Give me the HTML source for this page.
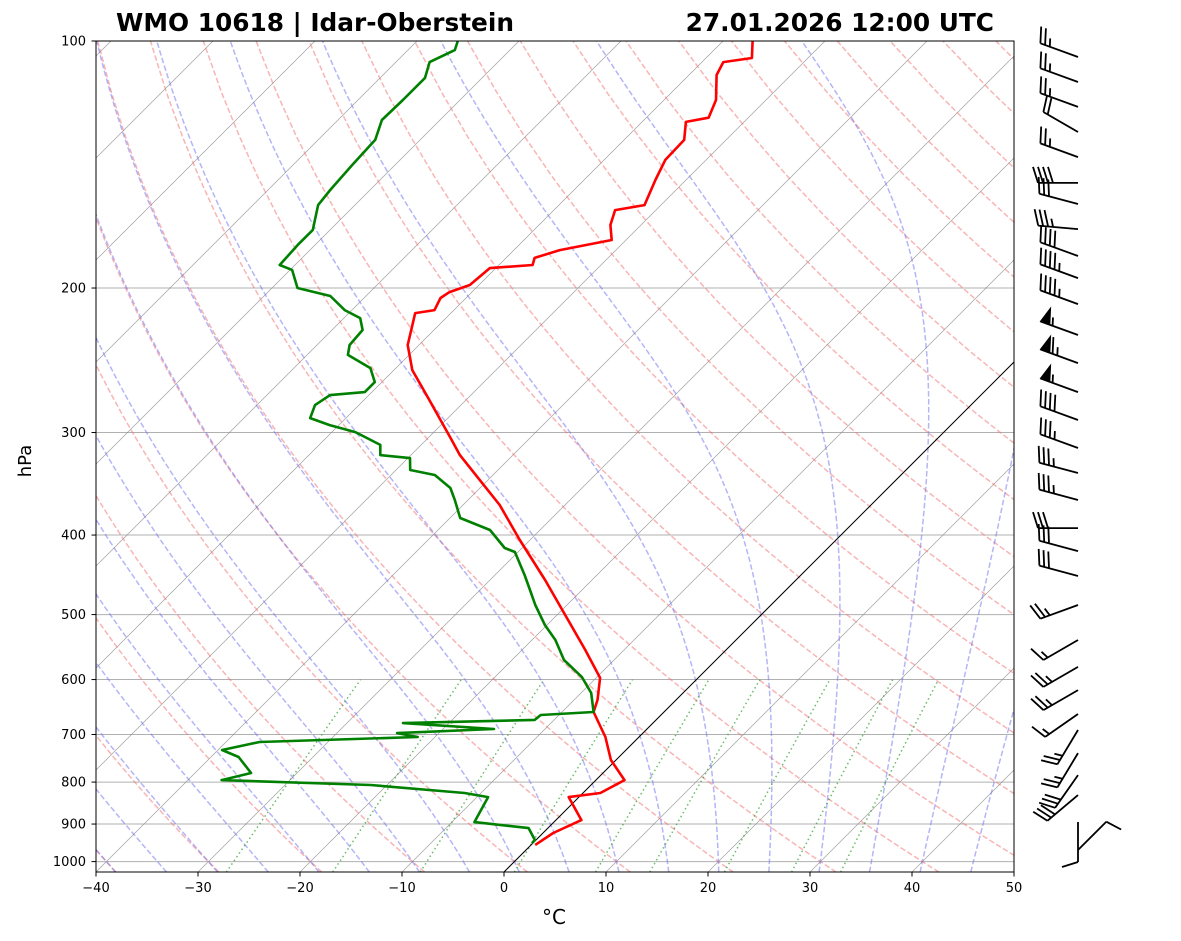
<!DOCTYPE html>
<html><head><meta charset="utf-8"><style>
html,body{margin:0;padding:0;background:#fff;}
svg{display:block;font-family:"DejaVu Sans","Liberation Sans",sans-serif;}
</style></head><body>
<svg id="chart" width="1181" height="941" viewBox="0 0 1181 941" xmlns="http://www.w3.org/2000/svg">
<defs><clipPath id="plotclip"><rect x="96" y="41" width="918" height="831"/></clipPath></defs>
<rect x="0" y="0" width="1181" height="941" fill="#fff"/>
<g id="bg" clip-path="url(#plotclip)"></g>
<g id="series" clip-path="url(#plotclip)"></g>
<rect x="96" y="41" width="918" height="831" fill="none" stroke="#000" stroke-width="1"/>
<g id="axes"></g>
<g id="barbs"></g>
<text x="116" y="31" font-size="24.8" font-weight="bold">WMO 10618 | Idar-Oberstein</text>
<text x="994" y="31" font-size="24.8" font-weight="bold" text-anchor="end">27.01.2026 12:00 UTC</text>
<text x="31" y="461" font-size="18" text-anchor="middle" transform="rotate(-90 31 461)">hPa</text>
<text x="554" y="924" font-size="20" text-anchor="middle">°C</text>
</svg>
<script>
const tempP=[100,104.9,106.1,110,118,124,125.5,132,139.6,147.7,158.5,160.7,167.6,174.8,179.8,183.8,187.5,189.1,198.3,202.3,205.7,212.8,214.6,234.7,251.8,272.3,304.6,319.6,342.8,367.7,405.6,453.8,500.6,552.2,597.3,635.4,657.2,704.9,752,795.5,825,834.5,890,923,954.3];
const tempT=[-57.1,-55.5,-57.9,-57.3,-54.9,-53.9,-55.7,-54.1,-54.0,-53.0,-51.6,-54.0,-53.0,-51.4,-55.5,-57.2,-56.7,-60.6,-60.9,-62.2,-62.5,-61.9,-63.5,-61.1,-58.2,-53.9,-47.8,-45.2,-40.8,-36.4,-31.0,-24.6,-19.2,-13.8,-9.6,-7.7,-6.9,-3.3,-0.5,2.8,1.7,-1.0,2.5,1.0,0.4];
const dewP=[100,102.6,106.1,110.9,118,124.8,132,141.6,151.9,158.5,169.9,177.3,187.5,190.1,200,204.5,212.8,217.6,225,234.7,241.3,250.4,260.4,267.8,270.1,277.8,288.1,293.8,299.6,310.6,319.6,322.3,333.3,338,350.5,362.5,381.3,394.4,414.8,419.5,447.4,466.7,486.8,514.9,537,568,595.6,623,657.2,662.7,672,677.9,689.3,697.2,704.9,715,731.1,745.6,779.8,795.5,806.7,825,834.5,895,910.2,941.3,949.3];
const dewT=[-86.0,-85.4,-86.7,-85.6,-85.6,-85.7,-84.4,-84.2,-83.9,-83.6,-81.7,-81.7,-81.5,-79.8,-77.5,-73.5,-70.7,-68.4,-67.0,-66.8,-66.0,-62.5,-60.7,-60.7,-63.8,-64.3,-63.5,-60.9,-57.7,-54.0,-53.0,-49.8,-48.6,-45.7,-42.9,-41.3,-39.0,-34.9,-31.7,-30.3,-27.1,-25.1,-23.1,-20.2,-17.7,-14.9,-11.5,-9.0,-6.9,-11.8,-11.9,-24.5,-15.0,-24.1,-21.7,-36.7,-39.6,-37.3,-34.5,-36.7,-21.6,-11.6,-8.9,-7.8,-1.9,-0.1,-0.1];
const windP=[104.6,112.2,120.3,129.1,138.5,148.9,158,169.5,182.8,194.5,209.2,228.2,246.9,267.8,289.6,313.3,336.1,362.5,392.3,418.4,448.7,486.8,537,579,618,660.9,691.2,737.5,784.4,829.7,894.8,968];
const windDir=[290,290,290,300,290,270,285,275,290,290,290,290,290,290,290,290,285,285,270,285,285,250,240,240,240,235,211,211,215,230,180,45];
const windSpd=[25,25,25,20,25,40,30,35,40,45,45,55,65,55,40,35,35,35,30,30,30,25,15,25,25,15,25,25,30,30,10,10];
const xTicks=[-40,-30,-20,-10,0,10,20,30,40,50];
const pTicks=[100,200,300,400,500,600,700,800,900,1000];
const dryT0=[-40,-30,-20,-10,0,10,20,30,40,50,60,70,80,90,100,110,120,130,140,150,160,170,180,190,200];
const moistT0=[-50,-45,-40,-35,-30,-25,-20,-15,-10,-5,0,5,10,15,20,25,30,35,40,45];
const mixW=[0.0004,0.001,0.002,0.004,0.007,0.01,0.016,0.024,0.032];

const NS='http://www.w3.org/2000/svg';
const Y0=41,K=820.6,YB=872,PB=1030;
function yP(p){return Y0+K*Math.log10(p/100);}
function xT(t,p){return 96+(t+40)*10.2+(YB-yP(p));}
function mk(tag,attrs,parent){const e=document.createElementNS(NS,tag);for(const k in attrs)e.setAttribute(k,attrs[k]);parent.appendChild(e);return e;}
const bg=document.getElementById('bg'),ser=document.getElementById('series'),ax=document.getElementById('axes'),bb=document.getElementById('barbs');
function pressures(p0,p1,n){const a=[];for(let i=0;i<=n;i++)a.push(p0+(p1-p0)*i/n);return a;}
function poly(pts,style,parent,name){const e=mk('polyline',Object.assign({points:pts.map(q=>q[0].toFixed(1)+','+q[1].toFixed(1)).join(' '),fill:'none'},style),parent);


return e;}

pTicks.forEach(p=>{const l=mk('line',{x1:96,x2:1014,y1:yP(p),y2:yP(p),stroke:'#b0b0b0','stroke-width':1},bg);

});
for(let t=-160;t<=50;t+=10){const pts=[[xT(t,PB),yP(PB)],[xT(t,100),yP(100)]];
poly(pts,{stroke:'#8a8a8a','stroke-width':0.7,'stroke-opacity':0.8},bg,'isotherm');}
const pr=pressures(PB,100,60);
dryT0.forEach(t0=>{const th=t0+273.15;const pts=pr.map(p=>[xT(th*Math.pow(p/1000,0.2857)-273.15,p),yP(p)]);
poly(pts,{stroke:'#f26b6b','stroke-opacity':0.5,'stroke-width':1.5,'stroke-dasharray':'5.5,2.5'},bg,'dry-adiabat');});
function es(tc){return 6.112*Math.exp(17.67*tc/(tc+243.5));}
function dTdp(p,T){const tc=T-273.15;const e=es(tc);const rs=0.622*e/Math.max(p-e,1e-3);
return (287.04*T+2.501e6*rs)/(1005.7+2.501e6*2.501e6*rs*0.622/(287.04*T*T))/p;}
function integ(T,p0,p1,n){const out=[[p0,T]];const h=(p1-p0)/n;let p=p0;for(let i=0;i<n;i++){const k1=dTdp(p,T),k2=dTdp(p+h/2,T+h/2*k1),k3=dTdp(p+h/2,T+h/2*k2),k4=dTdp(p+h,T+h*k3);T+=h/6*(k1+2*k2+2*k3+k4);p+=h;out.push([p,T]);}return out;}
moistT0.forEach(t0=>{const up=integ(t0+273.15,1000,100,180);const dn=integ(t0+273.15,1000,PB,6);
const all=dn.reverse().concat(up.slice(1));const pts=all.map(q=>[xT(q[1]-273.15,q[0]),yP(q[0])]);
poly(pts,{stroke:'#6b6bf0','stroke-opacity':0.5,'stroke-width':1.5,'stroke-dasharray':'5.5,2.5'},bg,'moist-adiabat');});
const pm=pressures(PB,600,20);
mixW.forEach(w=>{const pts=pm.map(p=>{const e=p*w/(0.622+w);const l=Math.log(e/6.112);const td=243.5*l/(17.67-l);return [xT(td,p),yP(p)];});
poly(pts,{stroke:'#2ca02c','stroke-opacity':0.7,'stroke-width':1.5,'stroke-dasharray':'1.5,3'},bg,'mixing-ratio-line');});
poly([[xT(0,PB),yP(PB)],[xT(0,100),yP(100)]],{stroke:'#000','stroke-width':1},bg,'zero-isotherm');
poly(tempP.map((p,i)=>[xT(tempT[i],p),yP(p)]),{stroke:'#ff0000','stroke-width':2.6,'stroke-linejoin':'round'},ser,'temperature-line');
poly(dewP.map((p,i)=>[xT(dewT[i],p),yP(p)]),{stroke:'#008000','stroke-width':2.6,'stroke-linejoin':'round'},ser,'dewpoint-line');
xTicks.forEach(t=>{const x=96+(t+40)*10.2;const l=mk('line',{x1:x,x2:x,y1:872,y2:876.5,stroke:'#000','stroke-width':1},ax);


const tx=mk('text',{x:x,y:892,'font-size':13,'text-anchor':'middle'},ax);tx.textContent=(t<0?'\u2212'+(-t):String(t));

});
pTicks.forEach(p=>{const y=yP(p);const l=mk('line',{x1:91.5,x2:96,y1:y,y2:y,stroke:'#000','stroke-width':1},ax);


const tx=mk('text',{x:86,y:y+4.5,'font-size':13,'text-anchor':'end'},ax);tx.textContent=String(p);

});
const L=40,H=16,SP=5,PW=10,BX=1078;
windP.forEach((p,i)=>{const y=yP(p);const d=windDir[i]*Math.PI/180;const u=[Math.sin(d),-Math.cos(d)];const n=[-u[1],u[0]];
const g=mk('g',{},bb);


const at=s=>[BX+u[0]*s,y+u[1]*s];
const tip=at(L);
let path='M'+BX+','+y.toFixed(1)+'L'+tip[0].toFixed(1)+','+tip[1].toFixed(1);
let spd=Math.round(windSpd[i]/5)*5;let np=Math.floor(spd/50);spd-=np*50;let nb=Math.floor(spd/10);spd-=nb*10;let half=spd>=5;
let s=L;let tri='';
for(let k=0;k<np;k++){const a=at(s),c=at(s-PW);const m=at(s-PW/2);tri+='M'+a[0].toFixed(1)+','+a[1].toFixed(1)+'L'+(m[0]+n[0]*H).toFixed(1)+','+(m[1]+n[1]*H).toFixed(1)+'L'+c[0].toFixed(1)+','+c[1].toFixed(1)+'Z';s-=PW+SP*0.6;}
if(np===0&&nb===0&&half)s-=SP*1.5;
for(let k=0;k<nb;k++){const a=at(s);path+='M'+a[0].toFixed(1)+','+a[1].toFixed(1)+'L'+(a[0]+n[0]*H+u[0]*5).toFixed(1)+','+(a[1]+n[1]*H+u[1]*5).toFixed(1);s-=SP;}
if(half){const a=at(s);path+='M'+a[0].toFixed(1)+','+a[1].toFixed(1)+'L'+(a[0]+n[0]*H/2+u[0]*2.5).toFixed(1)+','+(a[1]+n[1]*H/2+u[1]*2.5).toFixed(1);}
mk('path',{d:path,stroke:'#000','stroke-width':1.8,fill:'none','stroke-linecap':'butt'},g);
if(tri)mk('path',{d:tri,fill:'#000',stroke:'#000','stroke-width':1},g);});
</script>
</body></html>
